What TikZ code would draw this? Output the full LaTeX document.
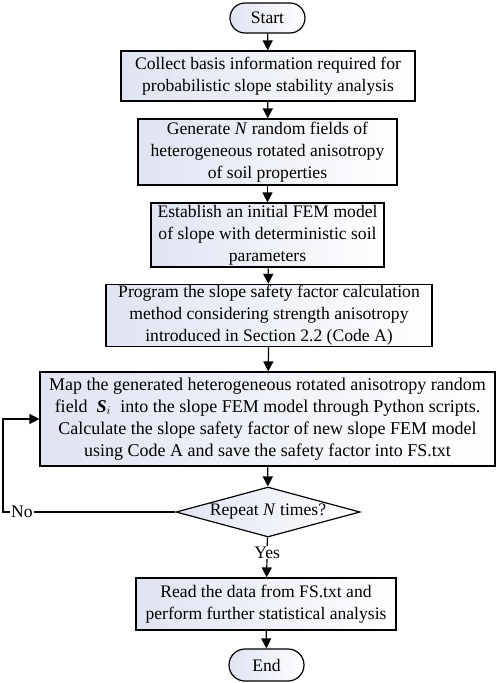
\documentclass[tikz,border=0pt]{standalone}
\usepackage{fontspec}
\setmainfont{Liberation Serif}
\usetikzlibrary{positioning,shapes.misc,shapes.geometric,arrows.meta}

\definecolor{boxblue}{RGB}{224,227,242}

\tikzset{
	stepbox/.style={draw, line width=1.2pt, rectangle, align=center, inner sep=1pt,
		left color=boxblue, right color=white, font=\fontsize{17.6}{22}\selectfont},
	termbox/.style={stepbox, rounded rectangle, minimum width=77pt},
	flow/.style={-{Triangle[width=10pt,length=10pt]}, line width=1.2pt},
	flowlabel/.style={fill=white, inner sep=1pt, font=\fontsize{17.6}{22}\selectfont},
}

\begin{document}
\begin{tikzpicture}[x=1pt, y=-1pt]
	\useasboundingbox (0, 0) rectangle (498, 683);

	\node[termbox, minimum height=30pt] (start) at (267.5, 18) {Start};

	\node[stepbox, minimum width=294pt, minimum height=50pt] (collect) at (268, 76)
		{Collect basis information required for\\probabilistic slope stability analysis};
	\node[stepbox, minimum width=259pt, minimum height=66pt] (generate) at (267.5, 152)
		{Generate \textit{N} random fields of\\heterogeneous rotated anisotropy\\of soil properties};
	\node[stepbox, minimum width=233pt, minimum height=64pt] (establish) at (267.5, 235)
		{Establish an initial FEM model\\of slope with deterministic soil\\parameters};
	\node[stepbox, minimum width=326pt, minimum height=59pt] (program) at (269, 315.5)
		{Program the slope safety factor calculation\\method considering strength anisotropy\\introduced in Section 2.2 (Code A)};
	\node[stepbox, minimum width=455pt, minimum height=94pt, font=\fontsize{18}{22}\selectfont] (map) at (267.5, 419)
		{Map the generated heterogeneous rotated anisotropy random\\
		field \ \textbf{\textit{S}}$_i$ \ into the slope FEM model through Python scripts.\\
		Calculate the slope safety factor of new slope FEM model\\
		using Code A and save the safety factor into FS.txt};

	\node[stepbox, diamond, aspect=3.68, minimum width=184pt, minimum height=50pt, inner sep=0pt] (repeat) at (268, 512)
		{Repeat \textit{N} times?};

	\node[stepbox, minimum width=260pt, minimum height=52pt] (read) at (266, 604)
		{Read the data from FS.txt and\\perform further statistical analysis};
	\node[termbox, minimum height=32pt] (end) at (266.5, 665) {End};

	\foreach \a/\b in {start/collect, collect/generate, generate/establish, establish/program, program/map, map/repeat, read/end} {
		\draw[flow] (\a) -- (\b);
	}

	\draw[flow] (repeat) -- node[flowlabel, pos=0.38] (yes) {Yes} (read);

	\coordinate (back) at (3, 512);
	\draw[flow] (repeat.west) -- node[flowlabel, pos=0.89] (no) {No} (back) |- (map.west);

\end{tikzpicture}
\end{document}
